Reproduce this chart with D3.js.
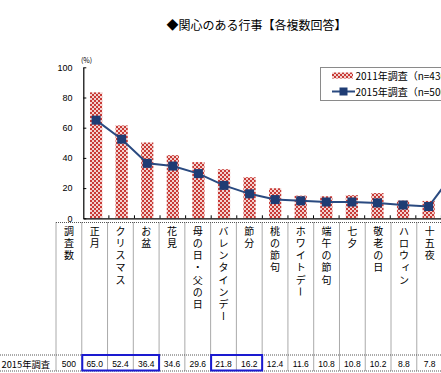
<!DOCTYPE html>
<html><head><meta charset="utf-8">
<script src="https://cdn.jsdelivr.net/npm/d3@7"></script>
<style>body{margin:0;background:#fff;} svg{display:block}</style>
</head><body>
<svg id="c" width="441" height="373"></svg>
<script>
const categories = ["正月","クリスマス","お盆","花見","母の日・父の日","バレンタインデー","節分","桃の節句","ホワイトデー","端午の節句","七夕","敬老の日","ハロウィン","十五夜","特にない"];
const values2011 = [83.4,61.5,50.2,41.8,37.2,32.5,27.2,19.9,15.0,14.6,15.3,16.7,11.7,11.5,25.0];
const values2015 = [65.0,52.4,36.4,34.6,29.6,21.8,16.2,12.4,11.6,10.8,10.8,10.2,8.8,7.8,30.4];
const yTicks = [0,20,40,60,80,100];
const seriesNames = ["2011年調査（n=436）","2015年調査（n=500）"];
const sampleLabel = "調査数";
const sampleSize = "500";
const rowLabel = "2015年調査";
const blueGroups = [[0,2],[5,6]];
const redGroups = [[14,14]];

const JP = "'Noto Sans CJK JP','Noto Sans',sans-serif";
const NUM = "'Liberation Sans',Arial,sans-serif";
const svg = d3.select("#c");

const defs = svg.append("defs");
const pat = defs.append("pattern").attr("id","chk").attr("patternUnits","userSpaceOnUse")
  .attr("width",4).attr("height",4);
pat.append("rect").attr("width",4).attr("height",4).attr("fill","#c83a36");
pat.append("rect").attr("x",0).attr("y",0).attr("width",2).attr("height",2).attr("fill","#f3d2cf");
pat.append("rect").attr("x",2).attr("y",2).attr("width",2).attr("height",2).attr("fill","#f3d2cf");

const x = d3.scaleBand().domain(categories).range([83.3, 83.3+25.58*categories.length]).padding(0);
const y = d3.scaleLinear().domain([0,100]).range([218.3, 67.3]);
const tx = d3.scaleBand().domain([sampleLabel, ...categories]).range([56, 56+25.77*(categories.length+1)]).padding(0);

// title
svg.append("text").attr("x",256.5).attr("y",30).attr("text-anchor","middle")
  .attr("font-family",JP).attr("font-size",12).attr("fill","#000")
  .text("◆関心のある行事【各複数回答】");

// bars
const bw = 12.2;
svg.append("g").selectAll("rect").data(categories).join("rect")
  .attr("x",d=>x(d)+x.bandwidth()/2-bw/2)
  .attr("y",(d,i)=>y(values2011[i]))
  .attr("width",bw)
  .attr("height",(d,i)=>y(0)-y(values2011[i]))
  .attr("fill","url(#chk)");

// y axis
const ya = svg.append("g").attr("transform","translate(83.3,0)")
  .call(d3.axisLeft(y).tickValues(yTicks).tickSizeInner(-3).tickSizeOuter(0).tickPadding(10.8));
ya.select(".domain").attr("stroke","#000").attr("stroke-width",1.2);
ya.selectAll(".tick line").attr("stroke","#000");
ya.selectAll("text").attr("font-family",NUM).attr("font-size",9).attr("fill","#000");
svg.append("text").attr("x",86.5).attr("y",63).attr("text-anchor","middle")
  .attr("font-family",JP).attr("font-size",7).text("(%)");

// x axis
const xa = svg.append("g").attr("transform","translate(0,218.3)")
  .call(d3.axisBottom(x).tickSize(0).tickFormat(""));
xa.select(".domain").attr("stroke","#000").attr("stroke-width",1.2);
xa.selectAll(".tick").remove();
svg.append("g").selectAll("line").data(categories.slice(1)).join("line")
  .attr("x1",d=>x(d)).attr("x2",d=>x(d)).attr("y1",y(0)).attr("y2",y(0)-3)
  .attr("stroke","#000");

// line
const line = d3.line().x((d,i)=>x(categories[i])+x.bandwidth()/2).y(d=>y(d));
svg.append("path").datum(values2015).attr("d",line).attr("fill","none")
  .attr("stroke","#2a4a80").attr("stroke-width",2);
const ms = 9;
svg.append("g").selectAll("rect").data(values2015).join("rect")
  .attr("x",(d,i)=>x(categories[i])+x.bandwidth()/2-ms/2)
  .attr("y",d=>y(d)-ms/2).attr("width",ms).attr("height",ms)
  .attr("fill","#1f3c74");

// legend
const lg = svg.append("g");
const rowY = [75.5, 91.5];
lg.append("rect").attr("x",320.5).attr("y",67.5).attr("width",200).attr("height",33)
  .attr("fill","#fff").attr("stroke","#8a8a8a").attr("stroke-width",1);
lg.append("rect").attr("x",332).attr("y",rowY[0]-3).attr("width",21).attr("height",6).attr("fill","url(#chk)");
lg.append("line").attr("x1",332).attr("x2",355).attr("y1",rowY[1]).attr("y2",rowY[1]).attr("stroke","#2a4a80").attr("stroke-width",2);
lg.append("rect").attr("x",343.5-4).attr("y",rowY[1]-4).attr("width",8).attr("height",8).attr("fill","#1f3c74");
lg.selectAll("text.l").data(seriesNames).join("text").attr("class","l")
  .attr("x",355.5).attr("y",(d,i)=>rowY[i]).attr("dominant-baseline","central")
  .attr("font-family",JP).attr("font-size",10).attr("fill","#000").text(d=>d);

// table
const tb = svg.append("g");
const cols = [sampleLabel, ...categories];
const tTop = 222.5, tMid = 355, tBot = 371;
function applyDash(s){ return s.attr("stroke","#555").attr("stroke-width",1).attr("stroke-dasharray","1,1"); }
applyDash(tb.append("line").attr("x1",56).attr("x2",441).attr("y1",tTop).attr("y2",tTop));
applyDash(tb.append("line").attr("x1",0).attr("x2",441).attr("y1",tMid).attr("y2",tMid));
applyDash(tb.append("line").attr("x1",0).attr("x2",441).attr("y1",tBot).attr("y2",tBot));
applyDash(tb.selectAll("line.v").data(cols).join("line").attr("class","v")
  .attr("x1",d=>tx(d)).attr("x2",d=>tx(d)).attr("y1",tTop).attr("y2",tBot));

// header vertical text
cols.forEach(c=>{
  const cx = tx(c)+tx.bandwidth()/2;
  Array.from(c).forEach((ch,j)=>{
    const cy = 230 + j*12.3;
    const t = tb.append("text").attr("font-family",JP).attr("font-size",10).attr("fill","#000")
      .attr("text-anchor","middle").attr("dominant-baseline","central");
    if (ch === "ー") {
      t.attr("transform",`translate(${cx},${cy}) rotate(90)`).text(ch);
    } else if ("ィァゥェォッャュョ".includes(ch)) {
      t.attr("x",cx+2).attr("y",cy-1.5).text(ch);
    } else {
      t.attr("x",cx).attr("y",cy).text(ch);
    }
  });
});

// data row
tb.append("text").attr("x",1.5).attr("y",363.5).attr("dominant-baseline","central")
  .attr("font-family",JP).attr("font-size",9.3).text(rowLabel);
const rowVals = [sampleSize, ...values2015.map(v=>v.toFixed(1))];
tb.selectAll("text.v").data(cols).join("text").attr("class","v")
  .attr("x",d=>tx(d)+tx.bandwidth()/2).attr("y",363.5).attr("dominant-baseline","central")
  .attr("text-anchor","middle").attr("font-family",NUM).attr("font-size",8.5)
  .text((d,i)=>rowVals[i]);

// highlight boxes
function box(g,color){
  const x0 = tx(categories[g[0]]), x1 = tx(categories[g[1]])+tx.bandwidth();
  tb.append("rect").attr("x",x0+0.5).attr("y",tMid).attr("width",x1-x0-0.5).attr("height",tBot-tMid-0.5)
    .attr("fill","none").attr("stroke",color).attr("stroke-width",2);
}
blueGroups.forEach(g=>box(g,"#1a1ad0"));
redGroups.forEach(g=>box(g,"#e02020"));
</script>
</body></html>
